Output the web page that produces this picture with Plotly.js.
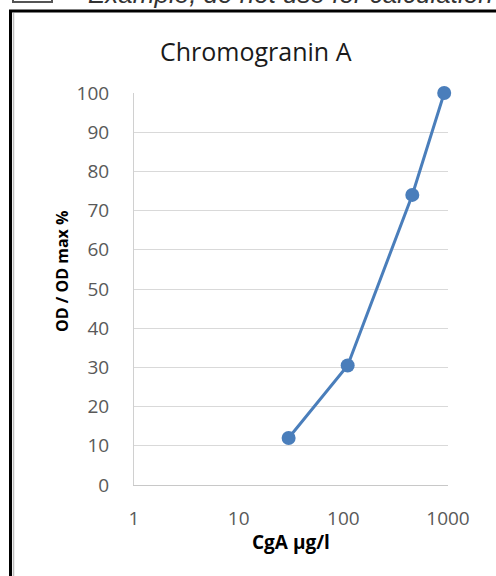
<!DOCTYPE html>
<html>
<head>
<meta charset="utf-8">
<script src="https://cdn.plot.ly/plotly-3.0.1.min.js"></script>
<style>html,body{margin:0;padding:0;background:#fff;}</style>
</head>
<body>
<div id="chart" style="width:496px;height:576px;"></div>
<script>
// Data
const concentration = [30, 110, 456, 920];     // CgA µg/l
const odPercent = [12, 30.5, 74, 100];          // OD / OD max %
const xTickVals = [1, 10, 100, 1000];
const xTickText = ['1', '10', '100', '1000'];

// pixel-to-paper helpers (plot area: x 134..448, y 93..485)
const L = 134, R = 448, T = 93, B = 485;
const W = R - L, H = B - T;
const px = x => (x - L) / W;
const py = y => (B - y) / H;

const trace = {
  x: concentration,
  y: odPercent,
  type: 'scatter',
  mode: 'lines+markers',
  cliponaxis: false,
  line: {color: '#4a7ebb', width: 3},
  marker: {color: '#4a7ebb', size: 14},
  hoverinfo: 'x+y'
};

const layout = {
  width: 496, height: 576,
  margin: {l: L, r: 496 - R, t: T, b: 576 - B, pad: 0},
  paper_bgcolor: '#ffffff',
  plot_bgcolor: '#ffffff',
  showlegend: false,
  xaxis: {
    type: 'log', range: [0, 3],
    tickvals: xTickVals, ticktext: xTickText,
    showgrid: false, zeroline: false,
    showline: true, linecolor: '#c8c8c8', linewidth: 1,
    ticks: '', ticklabelstandoff: 16,
    tickfont: {family: 'Open Sans', size: 19, color: '#595959'},
    fixedrange: true
  },
  yaxis: {
    range: [0, 100], dtick: 10,
    showgrid: true, gridcolor: '#d9d9d9', gridwidth: 1,
    zeroline: false,
    showline: true, linecolor: '#d0d0d0', linewidth: 1,
    ticks: '', ticklabelstandoff: 20,
    tickfont: {family: 'Open Sans', size: 19, color: '#595959'},
    fixedrange: true
  },
  annotations: [
    {text: 'Chromogranin A', xref: 'paper', yref: 'paper', x: px(256), y: py(51),
     xanchor: 'center', yanchor: 'middle', showarrow: false,
     font: {family: 'Open Sans', size: 25, color: '#1a1a1a'}},
    {text: '<b>OD / OD max %</b>', xref: 'paper', yref: 'paper', x: px(62), y: py(272),
     xanchor: 'center', yanchor: 'middle', showarrow: false, textangle: -90,
     font: {family: 'Open Sans', size: 16, color: '#000000'}},
    {text: '<b>CgA µg/l</b>', xref: 'paper', yref: 'paper', x: px(291), y: py(542),
     xanchor: 'center', yanchor: 'middle', showarrow: false,
     font: {family: 'Open Sans', size: 19, color: '#000000'}},
    {text: '<i>Example, do not use for calculation</i>', xref: 'paper', yref: 'paper',
     x: px(86), y: py(-6), xanchor: 'left', yanchor: 'middle', showarrow: false,
     font: {family: 'Liberation Sans', size: 26, color: '#333333'}}
  ],
  shapes: [
    {type: 'rect', xref: 'paper', yref: 'paper', x0: px(10.5), x1: px(700), y0: py(11), y1: py(900),
     line: {color: '#000000', width: 3}, fillcolor: 'rgba(0,0,0,0)', layer: 'below'},
    {type: 'line', xref: 'paper', yref: 'paper', x0: px(13.5), x1: px(13.5), y0: py(13), y1: py(900),
     line: {color: '#bdbdbd', width: 1.5}, layer: 'below'},
    {type: 'rect', xref: 'paper', yref: 'paper', x0: px(13), x1: px(52), y0: py(2), y1: py(-20),
     line: {color: '#555555', width: 2}, fillcolor: 'rgba(0,0,0,0)', layer: 'below'}
  ]
};

Plotly.newPlot('chart', [trace], layout, {displayModeBar: false, staticPlot: true});
</script>
</body>
</html>
